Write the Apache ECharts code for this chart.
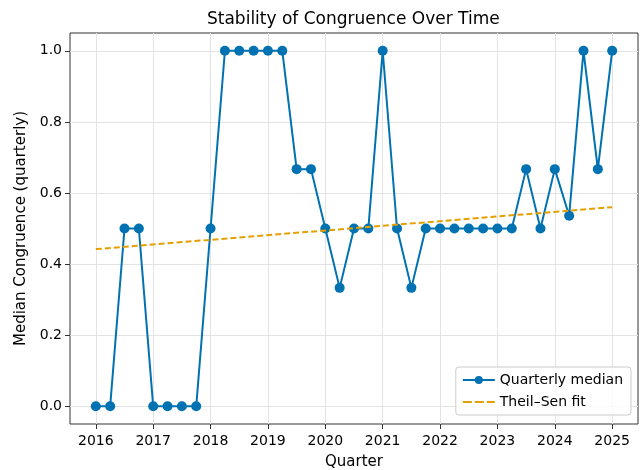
<!DOCTYPE html>
<html>
<head>
<meta charset="utf-8">
<script src="https://cdn.jsdelivr.net/npm/echarts@6/dist/echarts.min.js"></script>
<style>
  html, body { margin: 0; padding: 0; background: #fff; }
  #chart { width: 643px; height: 470px; }
</style>
</head>
<body>
<div id="chart"></div>
<script>
// quarter positions (year + quarter fraction)
const quarters = [
  2016.0, 2016.25, 2016.5, 2016.75, 2017.0, 2017.25, 2017.5, 2017.75,
  2018.0, 2018.25, 2018.5, 2018.75, 2019.0, 2019.25, 2019.5, 2019.75,
  2020.0, 2020.25, 2020.5, 2020.75, 2021.0, 2021.25, 2021.5, 2021.75,
  2022.0, 2022.25, 2022.5, 2022.75, 2023.0, 2023.25, 2023.5, 2023.75,
  2024.0, 2024.25, 2024.5, 2024.75, 2025.0
]
const medianValues = [
  0, 0, 0.5, 0.5, 0, 0, 0, 0,
  0.5, 1, 1, 1, 1, 1, 0.667, 0.667,
  0.5, 0.333, 0.5, 0.5, 1, 0.5, 0.333, 0.5,
  0.5, 0.5, 0.5, 0.5, 0.5, 0.5, 0.667, 0.5,
  0.667, 0.536, 1, 0.667, 1
]
// Theil-Sen fit end points
const trendX = [2016, 2025]
const trendY = [0.442, 0.560]

const xTicks = [2016, 2017, 2018, 2019, 2020, 2021, 2022, 2023, 2024, 2025]
const yTicks = [0, 0.2, 0.4, 0.6, 0.8, 1.0]

const FONT = 'DejaVu Sans'
const BLUE = '#0072B2'
const ORANGE = '#E69F00'

const myChart = echarts.init(document.getElementById('chart'))

// grid lines drawn as mark lines so they sit on the tick values
const gridLines = xTicks.map(v => ({ xAxis: v })).concat(yTicks.map(v => ({ yAxis: v })))

const option = {
  animation: false,
  backgroundColor: '#fff',
  title: {
    text: 'Stability of Congruence Over Time',
    left: 202,
    top: 6,
    textStyle: { fontFamily: FONT, fontSize: 17, fontWeight: 'normal', color: '#000' }
  },
  grid: {
    left: 70, right: 5, top: 33, bottom: 46,
    outerBoundsMode: 'none',
    containLabel: false,
    show: true, borderColor: '#333', borderWidth: 1, backgroundColor: 'transparent'
  },
  legend: {
    orient: 'vertical',
    right: 12,
    bottom: 55,
    z: 20,
    itemWidth: 32,
    itemHeight: 10,
    itemGap: 8,
    padding: [6, 8, 6, 6],
    borderColor: '#ccc',
    borderWidth: 1,
    borderRadius: 3,
    backgroundColor: 'rgba(255,255,255,0.8)',
    textStyle: { fontFamily: FONT, fontSize: 14, color: '#000' },
    data: [
      { name: 'Quarterly median' },
      { name: 'Theil–Sen fit', icon: 'path://M0,4h9v2h-9z M12,4h9v2h-9z M24,4h8v2h-8z M0,0h0.01v10h-0.01z M31.99,0h0.01v10h-0.01z' }
    ]
  },
  xAxis: {
    type: 'value',
    min: 2015.55,
    max: 2025.45,
    name: 'Quarter',
    nameLocation: 'middle',
    nameGap: 31,
    nameTextStyle: { fontFamily: FONT, fontSize: 15, color: '#000' },
    axisLine: { show: false, onZero: false },
    splitLine: { show: false },
    axisTick: { show: true, customValues: xTicks, length: 5, lineStyle: { color: '#333' } },
    axisLabel: {
      customValues: xTicks,
      fontFamily: FONT, fontSize: 14, color: '#000', margin: 10,
      formatter: v => String(v)
    }
  },
  yAxis: {
    type: 'value',
    min: -0.05,
    max: 1.05,
    name: 'Median Congruence (quarterly)',
    nameLocation: 'middle',
    nameGap: 41,
    nameTextStyle: { fontFamily: FONT, fontSize: 15, color: '#000' },
    axisLine: { show: false, onZero: false },
    splitLine: { show: false },
    axisTick: { show: true, customValues: yTicks, length: 5, lineStyle: { color: '#333' } },
    axisLabel: {
      customValues: yTicks,
      fontFamily: FONT, fontSize: 14, color: '#000', margin: 8,
      formatter: v => v.toFixed(1)
    }
  },
  series: [
    {
      name: 'grid',
      type: 'line',
      data: [],
      z: 0,
      silent: true,
      markLine: {
        z: 0,
        silent: true,
        symbol: 'none',
        label: { show: false },
        lineStyle: { color: '#e3e3e3', width: 1, type: 'solid' },
        data: gridLines
      }
    },
    {
      name: 'Quarterly median',
      type: 'line',
      data: quarters.map((q, i) => [q, medianValues[i]]),
      symbol: 'circle',
      symbolSize: 10,
      clip: false,
      z: 3,
      itemStyle: { color: BLUE },
      lineStyle: { color: BLUE, width: 2 }
    },
    {
      name: 'Theil–Sen fit',
      type: 'line',
      data: trendX.map((x, i) => [x, trendY[i]]),
      symbol: 'none',
      z: 4,
      itemStyle: { color: ORANGE },
      lineStyle: { color: ORANGE, width: 2, type: [6, 3] }
    }
  ]
}
myChart.setOption(option)
</script>
</body>
</html>
